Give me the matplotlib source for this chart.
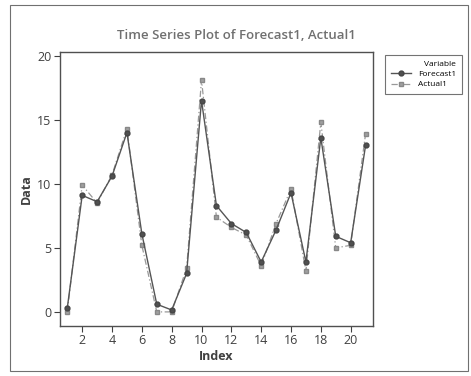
import numpy as np
import matplotlib.pyplot as plt
from matplotlib.patches import Rectangle

index = np.arange(1, 22)
forecast1 = [0.3, 9.1, 8.6, 10.6, 14.0, 6.1, 0.6, 0.15, 3.0, 16.5, 8.3,
             6.9, 6.2, 3.9, 6.4, 9.3, 3.9, 13.6, 5.9, 5.4, 13.0]
actual1 = [0.0, 9.9, 8.5, 10.7, 14.3, 5.2, 0.0, 0.0, 3.4, 18.1, 7.4,
           6.6, 6.0, 3.6, 6.9, 9.6, 3.2, 14.8, 5.0, 5.2, 13.9]

plt.rcParams['font.family'] = ['Open Sans', 'DejaVu Sans']

fig = plt.figure(figsize=(4.71, 3.76), dpi=100)
ax = fig.add_axes([0.127, 0.133, 0.665, 0.729])

ax.plot(index, actual1, color='#999999', linewidth=0.9, linestyle=(0, (5, 2, 1, 2)),
        marker='s', markersize=3, markerfacecolor='#a0a0a0',
        markeredgecolor='#888888', label='Actual1', zorder=2)
ax.plot(index, forecast1, color='#555555', linewidth=1.0, linestyle='solid',
        marker='o', markersize=3.5, markerfacecolor='#505050',
        markeredgecolor='#454545', label='Forecast1', zorder=3)

ax.set_xlim(0.5, 21.5)
ax.set_ylim(-1.1, 20.3)
ax.set_xticks(np.arange(2, 21, 2))
ax.set_yticks(np.arange(0, 21, 5))
ax.tick_params(labelsize=9, colors='#404040', length=4, width=0.8, pad=2)
for s in ax.spines.values():
    s.set_color('#505050')
    s.set_linewidth(1)

ax.set_xlabel('Index', fontsize=9, fontweight='bold', color='#404040', labelpad=2)
ax.set_ylabel('Data', fontsize=9, fontweight='bold', color='#404040', labelpad=3)
fig.text(0.503, 0.905, 'Time Series Plot of Forecast1, Actual1', ha='center',
         va='center', fontsize=9.5, fontweight='semibold', color='#707070')

handles, labels = ax.get_legend_handles_labels()
leg = fig.legend(handles[::-1], labels[::-1], loc='upper left',
                 bbox_to_anchor=(0.808, 0.865), fontsize=6, title='Variable',
                 title_fontsize=6, frameon=True, fancybox=False,
                 edgecolor='#505050', handlelength=2.5, borderpad=0.7,
                 labelspacing=0.3)
leg._legend_box.align = 'right'
leg.get_frame().set_linewidth(0.8)

# outer frame of the figure
fig.patches.append(Rectangle((0.021, 0.013), 0.973, 0.975, transform=fig.transFigure,
                             fill=False, edgecolor='#707070', linewidth=0.8))

fig.savefig('out.png', dpi=100)
